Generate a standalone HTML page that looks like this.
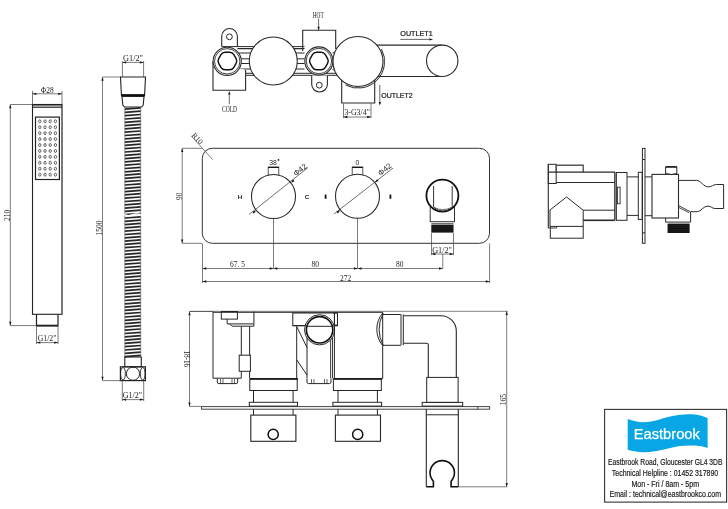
<!DOCTYPE html>
<html><head><meta charset="utf-8"><style>
html,body{margin:0;padding:0;background:#fff;width:728px;height:509px;overflow:hidden}
svg{display:block;will-change:transform}
</style></head><body>
<svg width="728" height="509" viewBox="0 0 728 509">
<rect width="728" height="509" fill="#fff"/>
<rect x="32.5" y="104.5" width="29.50" height="209.80" stroke="#222" stroke-width="1.1" fill="none"/>
<line x1="62" y1="104.5" x2="62" y2="314.3" stroke="#777" stroke-width="1.7"/>
<line x1="32.5" y1="107.2" x2="62" y2="107.2" stroke="#222" stroke-width="1.2"/>
<line x1="32.5" y1="104.8" x2="62" y2="104.8" stroke="#222" stroke-width="1.5"/>
<rect x="35.5" y="117.1" width="23.90" height="62.40" stroke="#222" stroke-width="1.2" fill="none"/>
<ellipse cx="39.8" cy="121.30" rx="1.15" ry="1.5" stroke="#333" stroke-width="0.75" fill="none"/>
<ellipse cx="45.0" cy="121.30" rx="1.15" ry="1.5" stroke="#333" stroke-width="0.75" fill="none"/>
<ellipse cx="50.2" cy="121.30" rx="1.15" ry="1.5" stroke="#333" stroke-width="0.75" fill="none"/>
<ellipse cx="55.4" cy="121.30" rx="1.15" ry="1.5" stroke="#333" stroke-width="0.75" fill="none"/>
<ellipse cx="39.8" cy="127.23" rx="1.15" ry="1.5" stroke="#333" stroke-width="0.75" fill="none"/>
<ellipse cx="45.0" cy="127.23" rx="1.15" ry="1.5" stroke="#333" stroke-width="0.75" fill="none"/>
<ellipse cx="50.2" cy="127.23" rx="1.15" ry="1.5" stroke="#333" stroke-width="0.75" fill="none"/>
<ellipse cx="55.4" cy="127.23" rx="1.15" ry="1.5" stroke="#333" stroke-width="0.75" fill="none"/>
<ellipse cx="39.8" cy="133.16" rx="1.15" ry="1.5" stroke="#333" stroke-width="0.75" fill="none"/>
<ellipse cx="45.0" cy="133.16" rx="1.15" ry="1.5" stroke="#333" stroke-width="0.75" fill="none"/>
<ellipse cx="50.2" cy="133.16" rx="1.15" ry="1.5" stroke="#333" stroke-width="0.75" fill="none"/>
<ellipse cx="55.4" cy="133.16" rx="1.15" ry="1.5" stroke="#333" stroke-width="0.75" fill="none"/>
<ellipse cx="39.8" cy="139.09" rx="1.15" ry="1.5" stroke="#333" stroke-width="0.75" fill="none"/>
<ellipse cx="45.0" cy="139.09" rx="1.15" ry="1.5" stroke="#333" stroke-width="0.75" fill="none"/>
<ellipse cx="50.2" cy="139.09" rx="1.15" ry="1.5" stroke="#333" stroke-width="0.75" fill="none"/>
<ellipse cx="55.4" cy="139.09" rx="1.15" ry="1.5" stroke="#333" stroke-width="0.75" fill="none"/>
<ellipse cx="39.8" cy="145.02" rx="1.15" ry="1.5" stroke="#333" stroke-width="0.75" fill="none"/>
<ellipse cx="45.0" cy="145.02" rx="1.15" ry="1.5" stroke="#333" stroke-width="0.75" fill="none"/>
<ellipse cx="50.2" cy="145.02" rx="1.15" ry="1.5" stroke="#333" stroke-width="0.75" fill="none"/>
<ellipse cx="55.4" cy="145.02" rx="1.15" ry="1.5" stroke="#333" stroke-width="0.75" fill="none"/>
<ellipse cx="39.8" cy="150.95" rx="1.15" ry="1.5" stroke="#333" stroke-width="0.75" fill="none"/>
<ellipse cx="45.0" cy="150.95" rx="1.15" ry="1.5" stroke="#333" stroke-width="0.75" fill="none"/>
<ellipse cx="50.2" cy="150.95" rx="1.15" ry="1.5" stroke="#333" stroke-width="0.75" fill="none"/>
<ellipse cx="55.4" cy="150.95" rx="1.15" ry="1.5" stroke="#333" stroke-width="0.75" fill="none"/>
<ellipse cx="39.8" cy="156.88" rx="1.15" ry="1.5" stroke="#333" stroke-width="0.75" fill="none"/>
<ellipse cx="45.0" cy="156.88" rx="1.15" ry="1.5" stroke="#333" stroke-width="0.75" fill="none"/>
<ellipse cx="50.2" cy="156.88" rx="1.15" ry="1.5" stroke="#333" stroke-width="0.75" fill="none"/>
<ellipse cx="55.4" cy="156.88" rx="1.15" ry="1.5" stroke="#333" stroke-width="0.75" fill="none"/>
<ellipse cx="39.8" cy="162.81" rx="1.15" ry="1.5" stroke="#333" stroke-width="0.75" fill="none"/>
<ellipse cx="45.0" cy="162.81" rx="1.15" ry="1.5" stroke="#333" stroke-width="0.75" fill="none"/>
<ellipse cx="50.2" cy="162.81" rx="1.15" ry="1.5" stroke="#333" stroke-width="0.75" fill="none"/>
<ellipse cx="55.4" cy="162.81" rx="1.15" ry="1.5" stroke="#333" stroke-width="0.75" fill="none"/>
<ellipse cx="39.8" cy="168.74" rx="1.15" ry="1.5" stroke="#333" stroke-width="0.75" fill="none"/>
<ellipse cx="45.0" cy="168.74" rx="1.15" ry="1.5" stroke="#333" stroke-width="0.75" fill="none"/>
<ellipse cx="50.2" cy="168.74" rx="1.15" ry="1.5" stroke="#333" stroke-width="0.75" fill="none"/>
<ellipse cx="55.4" cy="168.74" rx="1.15" ry="1.5" stroke="#333" stroke-width="0.75" fill="none"/>
<ellipse cx="39.8" cy="174.67" rx="1.15" ry="1.5" stroke="#333" stroke-width="0.75" fill="none"/>
<ellipse cx="45.0" cy="174.67" rx="1.15" ry="1.5" stroke="#333" stroke-width="0.75" fill="none"/>
<ellipse cx="50.2" cy="174.67" rx="1.15" ry="1.5" stroke="#333" stroke-width="0.75" fill="none"/>
<ellipse cx="55.4" cy="174.67" rx="1.15" ry="1.5" stroke="#333" stroke-width="0.75" fill="none"/>
<path d="M36.5,314.3 L36.5,325.6 L58,325.6 L58,314.3" stroke="#222" stroke-width="1.2" fill="none"/>
<line x1="36.5" y1="325.6" x2="58" y2="325.6" stroke="#222" stroke-width="1.8"/>
<line x1="10.3" y1="104.5" x2="10.3" y2="325.6" stroke="#444" stroke-width="0.7"/>
<path d="M10.30,104.50 L11.45,108.30 L9.15,108.30 Z" fill="#1a1a1a"/>
<path d="M10.30,325.60 L9.15,321.80 L11.45,321.80 Z" fill="#1a1a1a"/>
<line x1="10.3" y1="104.5" x2="32.5" y2="104.5" stroke="#444" stroke-width="0.7"/>
<line x1="10.3" y1="325.6" x2="36.5" y2="325.6" stroke="#444" stroke-width="0.7"/>
<text x="9.6" y="215.3" font-family="Liberation Serif" font-size="7.5" text-anchor="middle" fill="#222" font-weight="normal" transform="rotate(-90 9.6 215.3)">210</text>
<line x1="32.5" y1="91" x2="32.5" y2="104" stroke="#444" stroke-width="0.7"/>
<line x1="62" y1="91" x2="62" y2="104" stroke="#444" stroke-width="0.7"/>
<line x1="32.5" y1="93.8" x2="62" y2="93.8" stroke="#444" stroke-width="0.7"/>
<path d="M32.50,93.80 L36.30,92.65 L36.30,94.95 Z" fill="#1a1a1a"/>
<path d="M62.00,93.80 L58.20,94.95 L58.20,92.65 Z" fill="#1a1a1a"/>
<text x="47.2" y="93" font-family="Liberation Serif" font-size="7.4" text-anchor="middle" fill="#222" font-weight="normal">Φ28</text>
<line x1="36.5" y1="326" x2="36.5" y2="344" stroke="#444" stroke-width="0.7"/>
<line x1="58" y1="326" x2="58" y2="344" stroke="#444" stroke-width="0.7"/>
<line x1="36.5" y1="342.6" x2="58" y2="342.6" stroke="#444" stroke-width="0.7"/>
<path d="M36.50,342.60 L40.30,341.45 L40.30,343.75 Z" fill="#1a1a1a"/>
<path d="M58.00,342.60 L54.20,343.75 L54.20,341.45 Z" fill="#1a1a1a"/>
<text x="37.7" y="341" font-family="Liberation Serif" font-size="7.5" text-anchor="start" fill="#222" font-weight="normal" textLength="18.6" lengthAdjust="spacingAndGlyphs">G1/2&quot;</text>
<line x1="122.4" y1="61" x2="122.4" y2="77" stroke="#444" stroke-width="0.7"/>
<line x1="143.6" y1="61" x2="143.6" y2="77" stroke="#444" stroke-width="0.7"/>
<line x1="122.4" y1="62.4" x2="143.6" y2="62.4" stroke="#444" stroke-width="0.7"/>
<path d="M122.40,62.40 L126.20,61.25 L126.20,63.55 Z" fill="#1a1a1a"/>
<path d="M143.60,62.40 L139.80,63.55 L139.80,61.25 Z" fill="#1a1a1a"/>
<text x="123" y="61.2" font-family="Liberation Serif" font-size="7.5" text-anchor="start" fill="#222" font-weight="normal" textLength="20" lengthAdjust="spacingAndGlyphs">G1/2&quot;</text>
<path d="M120.5,77 L145.5,77 L144.6,95 L121.4,95 Z" stroke="#222" stroke-width="1.1" fill="none"/>
<line x1="121" y1="95.3" x2="145" y2="95.3" stroke="#111" stroke-width="2.2"/>
<path d="M122,96.5 L144,96.5 L143.2,105 L141.5,107 L124.5,107 L122.8,105 Z" stroke="#222" stroke-width="1.1" fill="none"/>
<path d="M124.8,109.10 L140.7,107.90 M124.8,112.40 L140.7,111.20 M124.8,115.70 L140.7,114.50 M124.8,119.00 L140.7,117.80 M124.8,122.30 L140.7,121.10 M124.8,125.60 L140.7,124.40 M124.8,128.90 L140.7,127.70 M124.8,132.20 L140.7,131.00 M124.8,135.50 L140.7,134.30 M124.8,138.80 L140.7,137.60 M124.8,142.10 L140.7,140.90 M124.8,145.40 L140.7,144.20 M124.8,148.70 L140.7,147.50 M124.8,152.00 L140.7,150.80 M124.8,155.30 L140.7,154.10 M124.8,158.60 L140.7,157.40 M124.8,161.90 L140.7,160.70 M124.8,165.20 L140.7,164.00 M124.8,168.50 L140.7,167.30 M124.8,171.80 L140.7,170.60 M124.8,175.10 L140.7,173.90 M124.8,178.40 L140.7,177.20 M124.8,181.70 L140.7,180.50 M124.8,185.00 L140.7,183.80 M124.8,188.30 L140.7,187.10 M124.8,191.60 L140.7,190.40 M124.8,194.90 L140.7,193.70 M124.8,198.20 L140.7,197.00 M124.8,201.50 L140.7,200.30 M124.8,204.80 L140.7,203.60 M124.8,208.10 L140.7,206.90 M124.8,211.40 L140.7,210.20 M124.8,214.70 L140.7,213.50 M124.8,218.00 L140.7,216.80 M124.8,221.30 L140.7,220.10 M124.8,224.60 L140.7,223.40 M124.8,227.90 L140.7,226.70 M124.8,231.20 L140.7,230.00 M124.8,234.50 L140.7,233.30 M124.8,237.80 L140.7,236.60 M124.8,241.10 L140.7,239.90 M124.8,244.40 L140.7,243.20 M124.8,247.70 L140.7,246.50 M124.8,251.00 L140.7,249.80 M124.8,254.30 L140.7,253.10 M124.8,257.60 L140.7,256.40 M124.8,260.90 L140.7,259.70 M124.8,264.20 L140.7,263.00 M124.8,267.50 L140.7,266.30 M124.8,270.80 L140.7,269.60 M124.8,274.10 L140.7,272.90 M124.8,277.40 L140.7,276.20 M124.8,280.70 L140.7,279.50 M124.8,284.00 L140.7,282.80 M124.8,287.30 L140.7,286.10 M124.8,290.60 L140.7,289.40 M124.8,293.90 L140.7,292.70 M124.8,297.20 L140.7,296.00 M124.8,300.50 L140.7,299.30 M124.8,303.80 L140.7,302.60 M124.8,307.10 L140.7,305.90 M124.8,310.40 L140.7,309.20 M124.8,313.70 L140.7,312.50 M124.8,317.00 L140.7,315.80 M124.8,320.30 L140.7,319.10 M124.8,323.60 L140.7,322.40 M124.8,326.90 L140.7,325.70 M124.8,330.20 L140.7,329.00 M124.8,333.50 L140.7,332.30 M124.8,336.80 L140.7,335.60 M124.8,340.10 L140.7,338.90 M124.8,343.40 L140.7,342.20 M124.8,346.70 L140.7,345.50 M124.8,350.00 L140.7,348.80 M124.8,353.30 L140.7,352.10 M124.8,356.60 L140.7,355.40" stroke="#262626" stroke-width="1.7" fill="none"/>
<line x1="124.8" y1="107" x2="124.8" y2="357" stroke="#555" stroke-width="0.6"/>
<line x1="140.7" y1="107" x2="140.7" y2="357" stroke="#555" stroke-width="0.6"/>
<path d="M123.5,214.2 Q128,216.8 132.7,214.8 Q137,212.8 142,215.2" stroke="#fff" stroke-width="1.5" fill="none"/>
<rect x="124.8" y="357" width="16.50" height="9.80" stroke="#222" stroke-width="1.1" fill="none"/>
<rect x="120.4" y="366.8" width="25.00" height="13.80" stroke="#222" stroke-width="1.2" fill="none"/>
<circle cx="133" cy="373.7" r="6.6" stroke="#222" stroke-width="1.0" fill="none"/>
<ellipse cx="123" cy="373.7" rx="2.4" ry="6.3" stroke="#222" stroke-width="0.9" fill="none"/>
<ellipse cx="142.7" cy="373.7" rx="2.4" ry="6.3" stroke="#222" stroke-width="0.9" fill="none"/>
<line x1="102.5" y1="77" x2="102.5" y2="380.6" stroke="#444" stroke-width="0.7"/>
<path d="M102.50,77.00 L103.65,80.80 L101.35,80.80 Z" fill="#1a1a1a"/>
<path d="M102.50,380.60 L101.35,376.80 L103.65,376.80 Z" fill="#1a1a1a"/>
<line x1="102.5" y1="77" x2="120.5" y2="77" stroke="#444" stroke-width="0.7"/>
<line x1="102.5" y1="380.6" x2="120.4" y2="380.6" stroke="#444" stroke-width="0.7"/>
<text x="101.9" y="227.9" font-family="Liberation Serif" font-size="7.5" text-anchor="middle" fill="#222" font-weight="normal" transform="rotate(-90 101.9 227.9)">1500</text>
<line x1="122.3" y1="381" x2="122.3" y2="401" stroke="#444" stroke-width="0.7"/>
<line x1="143.7" y1="381" x2="143.7" y2="401" stroke="#444" stroke-width="0.7"/>
<line x1="122.3" y1="399.6" x2="143.7" y2="399.6" stroke="#444" stroke-width="0.7"/>
<path d="M122.30,399.60 L126.10,398.45 L126.10,400.75 Z" fill="#1a1a1a"/>
<path d="M143.70,399.60 L139.90,400.75 L139.90,398.45 Z" fill="#1a1a1a"/>
<text x="122.7" y="397.5" font-family="Liberation Serif" font-size="7.5" text-anchor="start" fill="#222" font-weight="normal" textLength="19.3" lengthAdjust="spacingAndGlyphs">G1/2&quot;</text>
<line x1="221.7" y1="46.6" x2="304.5" y2="46.6" stroke="#2a2a2a" stroke-width="1"/>
<line x1="237.4" y1="48.7" x2="304.5" y2="48.7" stroke="#2a2a2a" stroke-width="1.3"/>
<line x1="237.4" y1="53.0" x2="304.5" y2="53.0" stroke="#2a2a2a" stroke-width="1"/>
<line x1="237.4" y1="58.8" x2="304.5" y2="58.8" stroke="#2a2a2a" stroke-width="1"/>
<line x1="237.4" y1="63.5" x2="304.5" y2="63.5" stroke="#2a2a2a" stroke-width="1"/>
<line x1="237.4" y1="69.0" x2="304.5" y2="69.0" stroke="#2a2a2a" stroke-width="1"/>
<line x1="245.6" y1="73.3" x2="337" y2="73.3" stroke="#2a2a2a" stroke-width="1.0"/>
<line x1="245.6" y1="75.3" x2="337" y2="75.3" stroke="#2a2a2a" stroke-width="1.0"/>
<circle cx="273.3" cy="61" r="24" stroke="#2a2a2a" stroke-width="1.1" fill="#fff"/>
<path d="M221.7,46.4 L221.7,36.4 A7.85,7.85 0 0 1 237.4,36.4 L237.4,46.4" stroke="#2a2a2a" stroke-width="1.1" fill="none"/>
<circle cx="229.4" cy="36.8" r="2.9" stroke="#2a2a2a" stroke-width="1.0" fill="none"/>
<path d="M213,61.3 L213,90.3 L245.6,90.3 L245.6,70" stroke="#2a2a2a" stroke-width="1.1" fill="#fff"/>
<circle cx="227.2" cy="61.3" r="14.1" stroke="#2a2a2a" stroke-width="1.1" fill="#fff"/>
<circle cx="227.2" cy="61.3" r="12.7" stroke="#2a2a2a" stroke-width="0.9" fill="none"/>
<path d="M236.09,58.55 Q237.50,61.00 236.09,63.45 L233.86,67.30 Q232.45,69.75 229.62,69.75 L225.18,69.75 Q222.35,69.75 220.94,67.30 L218.71,63.45 Q217.30,61.00 218.71,58.55 L220.94,54.70 Q222.35,52.25 225.18,52.25 L229.62,52.25 Q232.45,52.25 233.86,54.70 Z" stroke="#111" stroke-width="1.45" fill="none"/>
<line x1="229.3" y1="93.5" x2="229.3" y2="104" stroke="#2a2a2a" stroke-width="0.7"/>
<path d="M229.30,91.00 L230.50,94.50 L228.10,94.50 Z" fill="#1a1a1a"/>
<text x="229.5" y="112" font-family="Liberation Serif" font-size="7.2" text-anchor="middle" fill="#222" font-weight="normal" textLength="15" lengthAdjust="spacingAndGlyphs">COLD</text>
<path d="M302.7,51 L302.7,30.3 L335.7,30.3 L335.7,49" stroke="#2a2a2a" stroke-width="1.1" fill="none"/>
<line x1="318.6" y1="18.5" x2="318.6" y2="30" stroke="#2a2a2a" stroke-width="0.7"/>
<path d="M318.60,30.30 L317.40,26.80 L319.80,26.80 Z" fill="#1a1a1a"/>
<text x="318.2" y="17.9" font-family="Liberation Serif" font-size="7.2" text-anchor="middle" fill="#222" font-weight="normal" textLength="11" lengthAdjust="spacingAndGlyphs">HOT</text>
<path d="M311.7,75.4 L311.7,84.2 A7.85,7.85 0 0 0 327.4,84.2 L327.4,75.4" stroke="#2a2a2a" stroke-width="1.1" fill="#fff"/>
<circle cx="319.3" cy="85.2" r="2.9" stroke="#2a2a2a" stroke-width="1.0" fill="none"/>
<circle cx="318.9" cy="61" r="14.1" stroke="#2a2a2a" stroke-width="1.1" fill="#fff"/>
<circle cx="318.9" cy="61" r="12.7" stroke="#2a2a2a" stroke-width="0.9" fill="none"/>
<path d="M327.59,58.55 Q329.00,61.00 327.59,63.45 L325.36,67.30 Q323.95,69.75 321.12,69.75 L316.68,69.75 Q313.85,69.75 312.44,67.30 L310.21,63.45 Q308.80,61.00 310.21,58.55 L312.44,54.70 Q313.85,52.25 316.68,52.25 L321.12,52.25 Q323.95,52.25 325.36,54.70 Z" stroke="#111" stroke-width="1.45" fill="none"/>
<path d="M332.5,53 Q336,52.5 337,50" stroke="#2a2a2a" stroke-width="0.9" fill="none"/>
<path d="M332.5,69.5 Q336,70 337.5,73.3" stroke="#2a2a2a" stroke-width="0.9" fill="none"/>
<line x1="375" y1="45.1" x2="442.2" y2="45.1" stroke="#2a2a2a" stroke-width="1.1"/>
<line x1="375" y1="76.5" x2="442.2" y2="76.5" stroke="#2a2a2a" stroke-width="1.1"/>
<circle cx="442.2" cy="60.8" r="15.7" stroke="#2a2a2a" stroke-width="1.1" fill="#fff"/>
<path d="M341.7,80 L341.7,103 L374.7,103 L374.7,80" stroke="#2a2a2a" stroke-width="1.1" fill="none"/>
<circle cx="358" cy="61.5" r="25" stroke="#2a2a2a" stroke-width="1.1" fill="#fff"/>
<path d="M381.49,49.01 A26.6,26.6 0 0 1 345.51,84.99" stroke="#2a2a2a" stroke-width="1.0" fill="none"/>
<line x1="343.5" y1="103.5" x2="343.5" y2="118" stroke="#444" stroke-width="0.7"/>
<line x1="371" y1="103.5" x2="371" y2="118" stroke="#444" stroke-width="0.7"/>
<line x1="343.5" y1="117" x2="371" y2="117" stroke="#444" stroke-width="0.7"/>
<path d="M343.50,117.00 L347.30,115.85 L347.30,118.15 Z" fill="#1a1a1a"/>
<path d="M371.00,117.00 L367.20,118.15 L367.20,115.85 Z" fill="#1a1a1a"/>
<text x="344.4" y="115.4" font-family="Liberation Serif" font-size="7.5" text-anchor="start" fill="#222" font-weight="normal" textLength="25.5" lengthAdjust="spacingAndGlyphs">3-G3/4&quot;</text>
<line x1="379.8" y1="85" x2="379.8" y2="104" stroke="#2a2a2a" stroke-width="0.7"/>
<path d="M379.80,105.50 L378.60,102.00 L381.00,102.00 Z" fill="#1a1a1a"/>
<text x="381.2" y="97.7" font-family="Liberation Sans" font-size="7.2" text-anchor="start" fill="#222" font-weight="normal" stroke="#222" stroke-width="0.22" textLength="31.5" lengthAdjust="spacingAndGlyphs">OUTLET2</text>
<text x="400.3" y="35.9" font-family="Liberation Sans" font-size="7.2" text-anchor="start" fill="#222" font-weight="normal" stroke="#222" stroke-width="0.22" textLength="32.4" lengthAdjust="spacingAndGlyphs">OUTLET1</text>
<line x1="400.3" y1="39.4" x2="430" y2="39.4" stroke="#2a2a2a" stroke-width="0.7"/>
<path d="M433.00,39.40 L429.50,40.60 L429.50,38.20 Z" fill="#1a1a1a"/>
<rect x="202.3" y="148.3" width="287.2" height="95" rx="10" ry="10" stroke="#333" stroke-width="1.0" fill="none"/>
<rect x="268.2" y="167.3" width="10.60" height="8.20" stroke="#444" stroke-width="0.9" fill="#fff"/>
<line x1="268.2" y1="167.3" x2="278.8" y2="167.3" stroke="#111" stroke-width="1.3"/>
<circle cx="273.5" cy="196.5" r="22" stroke="#262626" stroke-width="1.05" fill="#fff"/>
<text x="273.0" y="164.5" font-family="Liberation Sans" font-size="6.8" text-anchor="middle" fill="#222" font-weight="normal">38</text>
<line x1="273.5" y1="218.5" x2="273.5" y2="268.5" stroke="#444" stroke-width="0.7"/>
<rect x="352.2" y="167.3" width="10.60" height="8.20" stroke="#444" stroke-width="0.9" fill="#fff"/>
<line x1="352.2" y1="167.3" x2="362.8" y2="167.3" stroke="#111" stroke-width="1.3"/>
<circle cx="357.5" cy="196.3" r="22" stroke="#262626" stroke-width="1.05" fill="#fff"/>
<text x="357.5" y="164.5" font-family="Liberation Sans" font-size="6.8" text-anchor="middle" fill="#222" font-weight="normal">0</text>
<line x1="357.5" y1="218.5" x2="357.5" y2="268.5" stroke="#444" stroke-width="0.7"/>
<circle cx="278.5" cy="159.9" r="0.9" stroke="#222" stroke-width="0" fill="#222"/>
<line x1="249" y1="214.5" x2="307.8" y2="167.7" stroke="#333" stroke-width="0.7"/>
<line x1="333.9" y1="214" x2="393.1" y2="168" stroke="#333" stroke-width="0.7"/>
<path d="M290.71,182.80 L293.10,179.37 L294.59,181.25 Z" fill="#1a1a1a"/>
<path d="M256.29,210.20 L253.90,213.63 L252.41,211.75 Z" fill="#1a1a1a"/>
<path d="M374.71,182.60 L377.10,179.17 L378.59,181.05 Z" fill="#1a1a1a"/>
<path d="M340.29,210.00 L337.90,213.43 L336.41,211.55 Z" fill="#1a1a1a"/>
<text x="296.0" y="176.5" font-family="Liberation Sans" font-size="7.8" text-anchor="start" fill="#222" font-weight="normal" transform="rotate(-38.516926307102764 296.0 176.5)">Φ42</text>
<text x="380.6" y="176.2" font-family="Liberation Sans" font-size="7.8" text-anchor="start" fill="#222" font-weight="normal" transform="rotate(-38.516926307102764 380.6 176.2)">Φ42</text>
<text x="240" y="199.3" font-family="Liberation Sans" font-size="6.2" text-anchor="middle" fill="#222" font-weight="bold">H</text>
<text x="307" y="199.3" font-family="Liberation Sans" font-size="6.2" text-anchor="middle" fill="#222" font-weight="bold">C</text>
<rect x="324.7" y="194.6" width="1.80" height="4.20" stroke="#222" stroke-width="0" fill="#111"/>
<rect x="389.5" y="194.6" width="1.80" height="4.20" stroke="#222" stroke-width="0" fill="#111"/>
<rect x="430.2" y="207" width="24.30" height="14.70" stroke="#333" stroke-width="1.0" fill="#fff"/>
<circle cx="442.4" cy="195.6" r="16.0" stroke="#111" stroke-width="1.8" fill="#fff"/>
<path d="M433.6,186 L433.6,207.2 Q442.6,215 452.2,207.2 L452.2,186" stroke="#333" stroke-width="1.0" fill="none"/>
<path d="M433.6,207.2 Q442.6,212 452.2,207.2" stroke="#555" stroke-width="0.8" fill="none"/>
<line x1="431.3" y1="223.6" x2="453.5" y2="223.6" stroke="#333" stroke-width="0.8"/>
<rect x="431.3" y="224.6" width="22.20" height="8.00" stroke="#222" stroke-width="0" fill="#151515"/>
<line x1="431.3" y1="226.5" x2="453.5" y2="226.5" stroke="#333" stroke-width="0.3"/>
<line x1="431.3" y1="228.7" x2="453.5" y2="228.7" stroke="#333" stroke-width="0.3"/>
<line x1="431.3" y1="230.9" x2="453.5" y2="230.9" stroke="#333" stroke-width="0.3"/>
<line x1="431.5" y1="233" x2="431.5" y2="255" stroke="#444" stroke-width="0.7"/>
<line x1="453.5" y1="233" x2="453.5" y2="255" stroke="#444" stroke-width="0.7"/>
<line x1="431.5" y1="254" x2="453.5" y2="254" stroke="#444" stroke-width="0.7"/>
<path d="M431.50,254.00 L435.30,252.85 L435.30,255.15 Z" fill="#1a1a1a"/>
<path d="M453.50,254.00 L449.70,255.15 L449.70,252.85 Z" fill="#1a1a1a"/>
<text x="432.2" y="252.5" font-family="Liberation Serif" font-size="7.5" text-anchor="start" fill="#222" font-weight="normal" textLength="19.7" lengthAdjust="spacingAndGlyphs">G1/2&quot;</text>
<line x1="442.8" y1="254" x2="442.8" y2="268.5" stroke="#444" stroke-width="0.7"/>
<line x1="182.2" y1="148.3" x2="182.2" y2="243.3" stroke="#444" stroke-width="0.7"/>
<path d="M182.20,148.30 L183.35,152.10 L181.05,152.10 Z" fill="#1a1a1a"/>
<path d="M182.20,243.30 L181.05,239.50 L183.35,239.50 Z" fill="#1a1a1a"/>
<line x1="182.2" y1="148.3" x2="202" y2="148.3" stroke="#444" stroke-width="0.7"/>
<line x1="182.2" y1="243.3" x2="202" y2="243.3" stroke="#444" stroke-width="0.7"/>
<text x="182.2" y="196.3" font-family="Liberation Serif" font-size="8.2" text-anchor="middle" fill="#222" font-weight="normal" transform="rotate(-90 182.2 196.3)" textLength="7.2" lengthAdjust="spacingAndGlyphs">90</text>
<line x1="202.5" y1="243.5" x2="202.5" y2="283" stroke="#444" stroke-width="0.7"/>
<line x1="489.6" y1="243.5" x2="489.6" y2="283" stroke="#444" stroke-width="0.7"/>
<line x1="202.5" y1="268.5" x2="273.5" y2="268.5" stroke="#444" stroke-width="0.7"/>
<path d="M202.50,268.50 L206.30,267.35 L206.30,269.65 Z" fill="#1a1a1a"/>
<path d="M273.50,268.50 L269.70,269.65 L269.70,267.35 Z" fill="#1a1a1a"/>
<line x1="273.5" y1="268.5" x2="357.7" y2="268.5" stroke="#444" stroke-width="0.7"/>
<path d="M273.50,268.50 L277.30,267.35 L277.30,269.65 Z" fill="#1a1a1a"/>
<path d="M357.70,268.50 L353.90,269.65 L353.90,267.35 Z" fill="#1a1a1a"/>
<line x1="357.7" y1="268.5" x2="442.8" y2="268.5" stroke="#444" stroke-width="0.7"/>
<path d="M357.70,268.50 L361.50,267.35 L361.50,269.65 Z" fill="#1a1a1a"/>
<path d="M442.80,268.50 L439.00,269.65 L439.00,267.35 Z" fill="#1a1a1a"/>
<line x1="202.5" y1="281.5" x2="489.6" y2="281.5" stroke="#444" stroke-width="0.7"/>
<path d="M202.50,281.50 L206.30,280.35 L206.30,282.65 Z" fill="#1a1a1a"/>
<path d="M489.60,281.50 L485.80,282.65 L485.80,280.35 Z" fill="#1a1a1a"/>
<text x="237.5" y="267.4" font-family="Liberation Serif" font-size="7.5" text-anchor="middle" fill="#222" font-weight="normal">67. 5</text>
<text x="315.2" y="267.3" font-family="Liberation Serif" font-size="7.5" text-anchor="middle" fill="#222" font-weight="normal">80</text>
<text x="399.8" y="267.3" font-family="Liberation Serif" font-size="7.5" text-anchor="middle" fill="#222" font-weight="normal">80</text>
<text x="345.7" y="280.8" font-family="Liberation Serif" font-size="7.5" text-anchor="middle" fill="#222" font-weight="normal">272</text>
<line x1="191.3" y1="136" x2="212.6" y2="159.6" stroke="#444" stroke-width="0.7"/>
<text x="195.6" y="140.2" font-family="Liberation Serif" font-size="7.4" text-anchor="middle" fill="#222" font-weight="normal" transform="rotate(48 195.6 140.2)">R10</text>
<rect x="548.3" y="164.3" width="7.90" height="19.20" stroke="#2a2a2a" stroke-width="1.0" fill="none"/>
<path d="M556.2,172.2 L556.2,165.3 L583.2,165.3 L583.2,172.2" stroke="#555" stroke-width="1.4" fill="none"/>
<line x1="548.3" y1="172.2" x2="614.7" y2="172.2" stroke="#2a2a2a" stroke-width="1.3"/>
<line x1="556.2" y1="182.5" x2="614.7" y2="182.5" stroke="#2a2a2a" stroke-width="1.1"/>
<line x1="548.3" y1="164.3" x2="548.3" y2="228" stroke="#2a2a2a" stroke-width="1.1"/>
<path d="M549.8,210.2 L566.5,197 L583.2,210.2" stroke="#2a2a2a" stroke-width="1.0" fill="none"/>
<line x1="550" y1="210" x2="550" y2="226.4" stroke="#2a2a2a" stroke-width="1.0"/>
<path d="M548.3,228 L556.5,228 L556.5,226.4" stroke="#2a2a2a" stroke-width="0.9" fill="none"/>
<rect x="550.3" y="226.4" width="32.90" height="11.80" stroke="#2a2a2a" stroke-width="1.0" fill="none"/>
<line x1="583.2" y1="210.2" x2="583.2" y2="226.4" stroke="#2a2a2a" stroke-width="1.0"/>
<line x1="583.2" y1="210.2" x2="614.7" y2="210.2" stroke="#2a2a2a" stroke-width="1.0"/>
<line x1="583.2" y1="220.3" x2="614.7" y2="220.3" stroke="#2a2a2a" stroke-width="1.6"/>
<line x1="614.7" y1="171.7" x2="614.7" y2="220.3" stroke="#2a2a2a" stroke-width="1.0"/>
<line x1="616.2" y1="172.5" x2="616.2" y2="220.3" stroke="#2a2a2a" stroke-width="0.8"/>
<rect x="616.2" y="172.5" width="10.80" height="47.80" stroke="#2a2a2a" stroke-width="1.0" fill="none"/>
<rect x="617.4" y="187.2" width="2.70" height="16.60" stroke="#2a2a2a" stroke-width="0.9" fill="none"/>
<line x1="627" y1="176.9" x2="638.3" y2="176.9" stroke="#2a2a2a" stroke-width="1.0"/>
<line x1="627" y1="215.4" x2="638.3" y2="215.4" stroke="#2a2a2a" stroke-width="1.0"/>
<rect x="638.3" y="172.3" width="3.90" height="47.10" stroke="#2a2a2a" stroke-width="1.0" fill="none"/>
<rect x="642.4" y="148.4" width="2.60" height="94.90" stroke="#2a2a2a" stroke-width="1.0" fill="none"/>
<line x1="642.4" y1="159.5" x2="645" y2="159.5" stroke="#2a2a2a" stroke-width="1.0"/>
<line x1="642.4" y1="232.8" x2="645" y2="232.8" stroke="#2a2a2a" stroke-width="1.0"/>
<line x1="645" y1="176.9" x2="652" y2="176.9" stroke="#2a2a2a" stroke-width="1.0"/>
<line x1="645" y1="215.7" x2="652" y2="215.7" stroke="#2a2a2a" stroke-width="1.0"/>
<rect x="652" y="174.4" width="26.50" height="43.60" stroke="#2a2a2a" stroke-width="1.1" fill="#fff"/>
<path d="M665.6,174.4 L665.6,166.9 L676.8,166.9 L676.8,174.4" stroke="#2a2a2a" stroke-width="1.0" fill="none"/>
<line x1="665.6" y1="166.9" x2="676.8" y2="166.9" stroke="#111" stroke-width="1.4"/>
<path d="M665.6,173.2 Q671.2,176.2 676.8,173.2" stroke="#2a2a2a" stroke-width="0.8" fill="none"/>
<path d="M678.5,180.4 L696.5,180.4 C701,180.4 703.5,186.9 708.2,186.9 C712,186.9 713,184.5 716.5,184.5 L723.6,184.5 L723.6,208.5 L715.1,208.5 C712,208.5 711,206.1 708,206.1 C703,206.1 701,211.7 697.2,211.7 L690.8,211.7" stroke="#2a2a2a" stroke-width="1.0" fill="none"/>
<path d="M678.5,205.5 L690.6,211.8 M678.5,207.3 L689,212.6" stroke="#2a2a2a" stroke-width="0.9" fill="none"/>
<path d="M665.6,218 L665.6,222.1 L690.6,222.1 L690.6,211.8" stroke="#2a2a2a" stroke-width="1.0" fill="none"/>
<rect x="667.6" y="223.6" width="22.00" height="9.40" stroke="#222" stroke-width="0" fill="#111"/>
<line x1="667.4" y1="225.5" x2="688.6" y2="225.5" stroke="#3a3a3a" stroke-width="0.35"/>
<line x1="667.4" y1="227.7" x2="688.6" y2="227.7" stroke="#3a3a3a" stroke-width="0.35"/>
<line x1="667.4" y1="229.9" x2="688.6" y2="229.9" stroke="#3a3a3a" stroke-width="0.35"/>
<line x1="667.4" y1="232.1" x2="688.6" y2="232.1" stroke="#3a3a3a" stroke-width="0.35"/>
<rect x="201.5" y="406.6" width="288.10" height="2.60" stroke="#444" stroke-width="1.0" fill="#fff"/>
<line x1="189.5" y1="311.3" x2="507.8" y2="311.3" stroke="#666" stroke-width="0.8"/>
<line x1="213" y1="312.3" x2="383" y2="312.3" stroke="#262626" stroke-width="1.0"/>
<path d="M213,311.5 L213,378.2 L241.4,378.2" stroke="#262626" stroke-width="1.0" fill="none"/>
<rect x="221.3" y="311.5" width="16.10" height="7.60" stroke="#262626" stroke-width="1.0" fill="none"/>
<path d="M227.2,319.1 L227.2,323.9 L253.9,323.9" stroke="#262626" stroke-width="1.0" fill="none"/>
<path d="M229.8,324 L231.9,326.2 L253.9,326.2" stroke="#262626" stroke-width="1.0" fill="none"/>
<line x1="253.9" y1="311.5" x2="253.9" y2="326.2" stroke="#262626" stroke-width="1.0"/>
<line x1="241.3" y1="326.2" x2="241.3" y2="378.2" stroke="#262626" stroke-width="1.0"/>
<line x1="249.6" y1="326.2" x2="249.6" y2="378.2" stroke="#262626" stroke-width="1.0"/>
<rect x="239.2" y="355.2" width="11.20" height="16.10" stroke="#262626" stroke-width="1.0" fill="#fff"/>
<path d="M217.3,378.4 L217.3,382 Q217.3,383.6 218.9,383.6 L236.1,383.6 Q237.7,383.6 237.7,382 L237.7,378.4" stroke="#262626" stroke-width="1.0" fill="none"/>
<line x1="220.5" y1="379" x2="220.5" y2="383.4" stroke="#262626" stroke-width="0.7"/>
<line x1="223" y1="379" x2="223" y2="383.4" stroke="#262626" stroke-width="0.7"/>
<line x1="232" y1="379" x2="232" y2="383.4" stroke="#262626" stroke-width="0.7"/>
<line x1="234.5" y1="379" x2="234.5" y2="383.4" stroke="#262626" stroke-width="0.7"/>
<line x1="249.8" y1="378.9" x2="298" y2="378.9" stroke="#111" stroke-width="1.8"/>
<rect x="249.8" y="379" width="47.40" height="11.50" stroke="#262626" stroke-width="1.0" fill="none"/>
<line x1="253.5" y1="390.6" x2="253.5" y2="402.3" stroke="#262626" stroke-width="1.0"/>
<line x1="293.1" y1="390.6" x2="293.1" y2="402.3" stroke="#262626" stroke-width="1.0"/>
<rect x="249.3" y="402.3" width="48.20" height="3.80" stroke="#262626" stroke-width="1.0" fill="none"/>
<line x1="253.5" y1="409.1" x2="253.5" y2="415.1" stroke="#262626" stroke-width="1.0"/>
<line x1="293.1" y1="409.1" x2="293.1" y2="415.1" stroke="#262626" stroke-width="1.0"/>
<rect x="250.8" y="415.1" width="45.10" height="26.20" stroke="#262626" stroke-width="1.1" fill="none"/>
<circle cx="273.2" cy="434.4" r="5.1" stroke="#111" stroke-width="1.5" fill="none"/>
<line x1="333.4" y1="378.9" x2="382.1" y2="378.9" stroke="#111" stroke-width="1.8"/>
<rect x="333.4" y="379" width="47.90" height="11.50" stroke="#262626" stroke-width="1.0" fill="none"/>
<line x1="338" y1="390.6" x2="338" y2="402.3" stroke="#262626" stroke-width="1.0"/>
<line x1="377.4" y1="390.6" x2="377.4" y2="402.3" stroke="#262626" stroke-width="1.0"/>
<rect x="332.9" y="402.3" width="48.70" height="3.80" stroke="#262626" stroke-width="1.0" fill="none"/>
<line x1="338" y1="409.1" x2="338" y2="415.1" stroke="#262626" stroke-width="1.0"/>
<line x1="377.4" y1="409.1" x2="377.4" y2="415.1" stroke="#262626" stroke-width="1.0"/>
<rect x="335.4" y="415.1" width="45.10" height="26.20" stroke="#262626" stroke-width="1.1" fill="none"/>
<circle cx="357.7" cy="434.4" r="5.1" stroke="#111" stroke-width="1.5" fill="none"/>
<rect x="292.8" y="313" width="44.70" height="12.60" stroke="#262626" stroke-width="1.0" fill="none"/>
<line x1="292.8" y1="325.6" x2="337.5" y2="325.6" stroke="#262626" stroke-width="1.4"/>
<line x1="296.7" y1="326.5" x2="296.7" y2="378.4" stroke="#262626" stroke-width="1.0"/>
<line x1="296.7" y1="326.5" x2="307" y2="347.5" stroke="#262626" stroke-width="1.0"/>
<line x1="296.7" y1="359.8" x2="307" y2="375" stroke="#262626" stroke-width="1.0"/>
<line x1="307" y1="330" x2="307" y2="378.4" stroke="#262626" stroke-width="1.0"/>
<line x1="330.5" y1="335" x2="330.5" y2="378.4" stroke="#262626" stroke-width="0.8"/>
<line x1="332.4" y1="330" x2="332.4" y2="378.4" stroke="#262626" stroke-width="1.0"/>
<circle cx="319.6" cy="329.8" r="15.1" stroke="#262626" stroke-width="1.0" fill="#fff"/>
<circle cx="319.6" cy="329.8" r="13.2" stroke="#111" stroke-width="1.6" fill="#fff"/>
<line x1="306.5" y1="326.3" x2="332.8" y2="326.3" stroke="#262626" stroke-width="1.0"/>
<path d="M307,378.6 L307,382 Q307,383.6 308.6,383.6 L329.4,383.6 Q331,383.6 331,382 L331,378.6" stroke="#262626" stroke-width="1.0" fill="none"/>
<line x1="311.5" y1="379" x2="311.5" y2="383.4" stroke="#262626" stroke-width="0.7"/>
<line x1="314" y1="379" x2="314" y2="383.4" stroke="#262626" stroke-width="0.7"/>
<line x1="324.5" y1="379" x2="324.5" y2="383.4" stroke="#262626" stroke-width="0.7"/>
<line x1="327" y1="379" x2="327" y2="383.4" stroke="#262626" stroke-width="0.7"/>
<line x1="334.4" y1="312.6" x2="334.4" y2="378.9" stroke="#262626" stroke-width="1.0"/>
<line x1="382.7" y1="312.6" x2="382.7" y2="378.9" stroke="#262626" stroke-width="1.0"/>
<rect x="334.4" y="313" width="3.10" height="12.00" stroke="#262626" stroke-width="0.9" fill="none"/>
<path d="M382.7,313 A25.5,25.5 0 0 0 382.7,345.6" stroke="#262626" stroke-width="1.0" fill="none"/>
<path d="M383.2,313.4 A33,33 0 0 0 383.2,345.3" stroke="#262626" stroke-width="1.0" fill="none"/>
<line x1="383" y1="314.5" x2="400.8" y2="314.5" stroke="#262626" stroke-width="1.0"/>
<line x1="383" y1="345.3" x2="400.8" y2="345.3" stroke="#262626" stroke-width="1.0"/>
<line x1="401" y1="314.4" x2="401" y2="345.3" stroke="#262626" stroke-width="1.0"/>
<line x1="403.3" y1="314.4" x2="403.3" y2="345.3" stroke="#262626" stroke-width="1.0"/>
<path d="M403.6,315.7 L440.9,315.7 A15.4,15.4 0 0 1 456.3,331.1 L456.3,377.4" stroke="#262626" stroke-width="1.1" fill="none"/>
<path d="M403.6,343.2 L426.5,343.2 Q428.3,343.2 428.3,345 L428.3,377.4" stroke="#262626" stroke-width="1.1" fill="none"/>
<rect x="426.7" y="377.4" width="31.40" height="25.00" stroke="#262626" stroke-width="1.0" fill="none"/>
<rect x="422.2" y="402.4" width="40.50" height="3.70" stroke="#262626" stroke-width="1.0" fill="none"/>
<line x1="426.3" y1="409.1" x2="426.3" y2="486.8" stroke="#262626" stroke-width="1.1"/>
<line x1="458.3" y1="409.1" x2="458.3" y2="486.8" stroke="#262626" stroke-width="1.1"/>
<line x1="426.3" y1="414.8" x2="458.3" y2="414.8" stroke="#262626" stroke-width="1.0"/>
<path d="M426.3,486.8 L433.4,486.8 L433.4,481.2 A12.2,12.2 0 1 1 451.1,481.2 L451.1,486.8 L458.3,486.8" stroke="#111" stroke-width="1.6" fill="none"/>
<line x1="477.8" y1="406.6" x2="477.8" y2="409.2" stroke="#444" stroke-width="1.0"/>
<line x1="189.5" y1="311.5" x2="189.5" y2="406.4" stroke="#444" stroke-width="0.7"/>
<path d="M189.50,311.50 L190.65,315.30 L188.35,315.30 Z" fill="#1a1a1a"/>
<path d="M189.50,406.40 L188.35,402.60 L190.65,402.60 Z" fill="#1a1a1a"/>
<line x1="189.5" y1="311.5" x2="213" y2="311.5" stroke="#444" stroke-width="0.7"/>
<line x1="189.5" y1="406.4" x2="201.5" y2="406.4" stroke="#444" stroke-width="0.7"/>
<text x="183.8" y="358.8" font-family="Liberation Serif" font-size="7.2" text-anchor="middle" fill="#222" font-weight="normal" transform="rotate(90 183.8 358.8)">18-16</text>
<line x1="506.7" y1="311.3" x2="506.7" y2="486.8" stroke="#444" stroke-width="0.7"/>
<path d="M506.70,311.30 L507.85,315.10 L505.55,315.10 Z" fill="#1a1a1a"/>
<path d="M506.70,486.80 L505.55,483.00 L507.85,483.00 Z" fill="#1a1a1a"/>
<line x1="458.3" y1="486.8" x2="507" y2="486.8" stroke="#444" stroke-width="0.7"/>
<text x="506" y="399.7" font-family="Liberation Serif" font-size="7.5" text-anchor="middle" fill="#222" font-weight="normal" transform="rotate(-90 506 399.7)">165</text>
<rect x="604.6" y="409.4" width="122.00" height="92.70" stroke="#333" stroke-width="1.1" fill="#fff"/>
<path d="M627.7,419.1 C633,421 638,422.2 643.5,422.2 C652,422.2 658,419.8 666,417.5 C675,415 682,414.2 689.3,414.2 C697,414.2 702,415.5 707.6,418.1 L707.6,447.9 C702,446 697,445.4 689.3,445.4 C682,445.4 675,446.5 666,449 C658,451 652,452.2 643.5,452.2 C638,452.2 633,451.3 627.7,449.7 Z" fill="#08a6e5"/>
<text x="633.7" y="438.7" font-family="Liberation Sans" font-size="14.2" text-anchor="start" fill="#fff" font-weight="normal" stroke="#fff" stroke-width="0.25" textLength="66.2" lengthAdjust="spacingAndGlyphs">Eastbrook</text>
<text x="608.1" y="464.8" font-family="Liberation Sans" font-size="8.5" text-anchor="start" fill="#1a1a1a" font-weight="normal" stroke="#1a1a1a" stroke-width="0.18" textLength="114.4" lengthAdjust="spacingAndGlyphs">Eastbrook Road, Gloucester GL4 3DB</text>
<text x="611.8" y="475.7" font-family="Liberation Sans" font-size="8.5" text-anchor="start" fill="#1a1a1a" font-weight="normal" stroke="#1a1a1a" stroke-width="0.18" textLength="106.4" lengthAdjust="spacingAndGlyphs">Technical Helpline : 01452 317890</text>
<text x="631.4" y="486.5" font-family="Liberation Sans" font-size="8.5" text-anchor="start" fill="#1a1a1a" font-weight="normal" stroke="#1a1a1a" stroke-width="0.18" textLength="67.6" lengthAdjust="spacingAndGlyphs">Mon - Fri / 8am - 5pm</text>
<text x="609.6" y="497.2" font-family="Liberation Sans" font-size="8.5" text-anchor="start" fill="#1a1a1a" font-weight="normal" stroke="#1a1a1a" stroke-width="0.18" textLength="111.5" lengthAdjust="spacingAndGlyphs">Email : technical@eastbrookco.com</text>
</svg>
</body></html>
